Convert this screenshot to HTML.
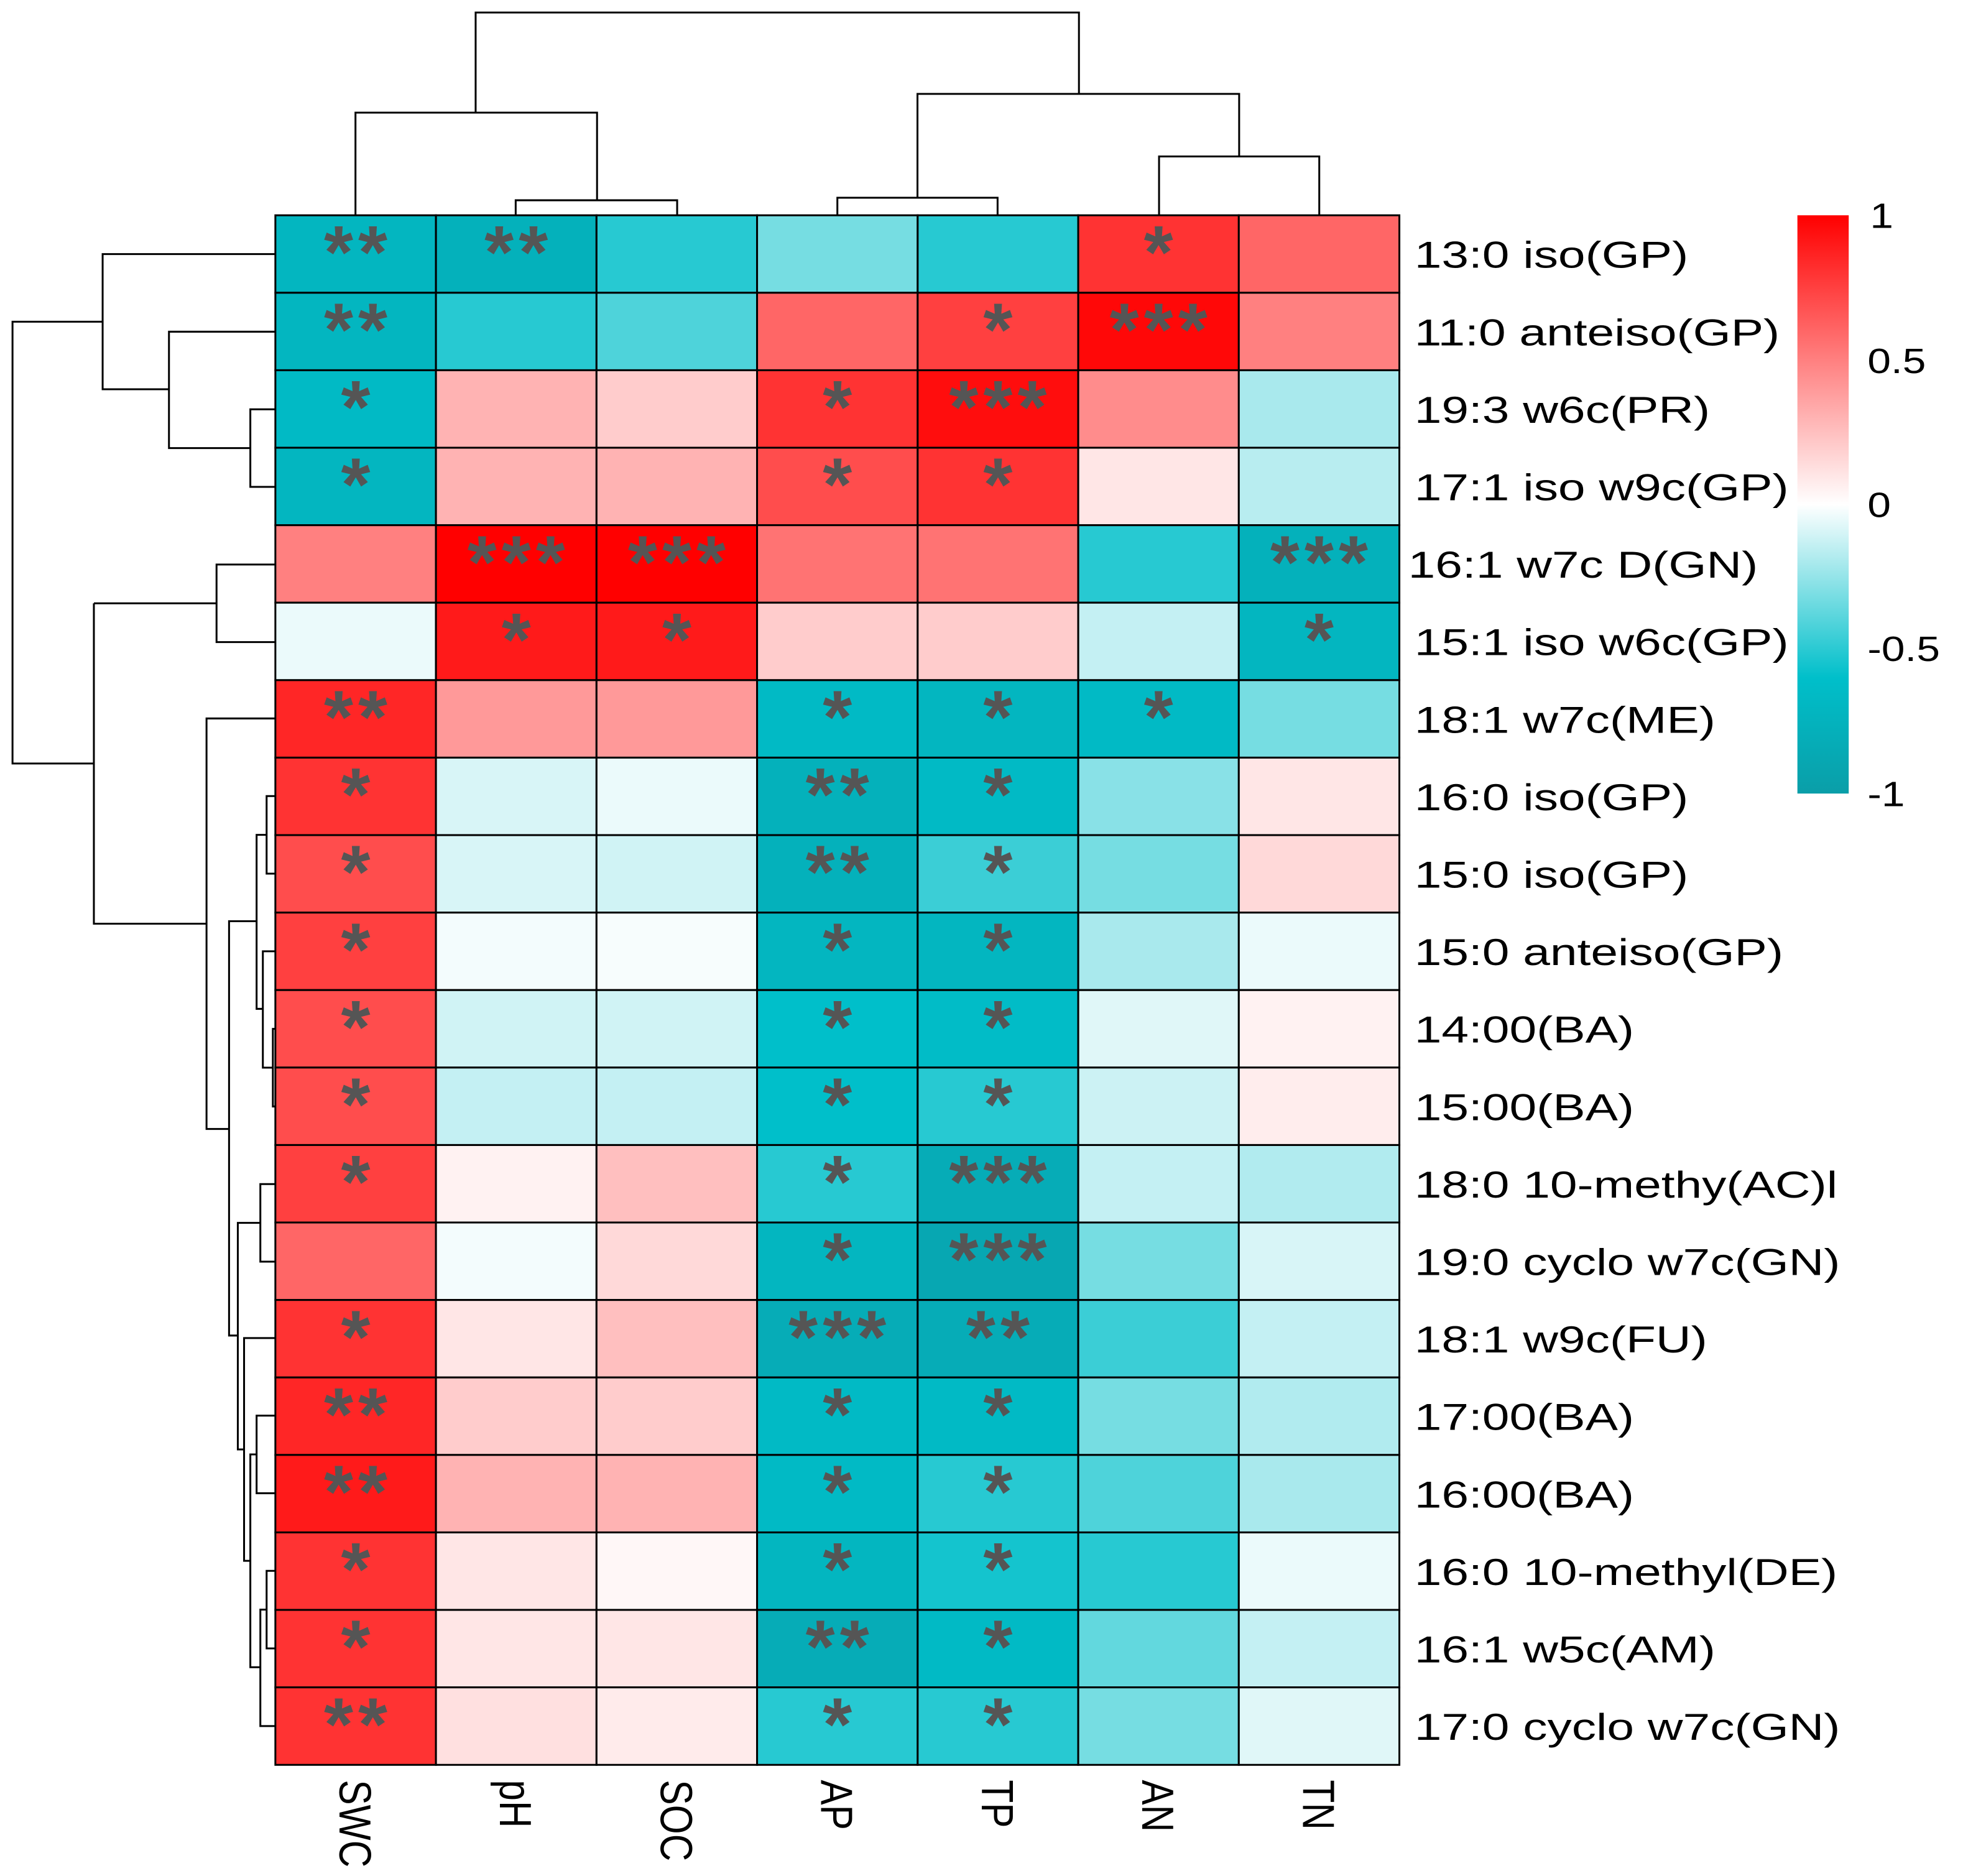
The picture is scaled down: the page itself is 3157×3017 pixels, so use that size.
<!DOCTYPE html>
<html><head><meta charset="utf-8">
<style>html,body{margin:0;padding:0;background:#fff}svg{display:block}</style>
</head><body>
<svg id="chart" xmlns="http://www.w3.org/2000/svg" width="3157" height="3017" viewBox="0 0 1568.3 1498.8" preserveAspectRatio="none" font-family="Liberation Sans, sans-serif">
<defs>
<linearGradient id="cbg" x1="0" y1="1" x2="0" y2="0">
<stop offset="0" stop-color="#0a9ea8"/>
<stop offset="0.2" stop-color="#00bfca"/>
<stop offset="0.5" stop-color="#ffffff"/>
<stop offset="1" stop-color="#ff0000"/>
</linearGradient>
</defs>
<g id="cells"></g>
<g id="stars"></g>
<g id="rowlabels"></g>
<g id="collabels"></g>
<g fill="none" stroke="#000" stroke-width="1.5">
<path d="M412,172V160H541V172M284,172V90H477V160M669,172V158H797V172M926,172V125H1054V172M733,158V75H990V125M380,90V10H862V75"/>
</g>
<g fill="none" stroke="#000" stroke-width="1.5">
<path d="M220,327H200V389H220M220,265H135V358H200M220,203H82V311H135M220,451H173V513H220M82,257H10V610H75M75,482H173M75,482V738H165M220,574H165V902H183M220,636H213V698H220M220,822H218V884H220M220,760H210V853H218M213,667H205V806H210M220,946H208V1008H220M220,1131H205V1193H220M220,1255H213V1317H220M220,1379H208V1286H213M205,1162H200V1332H208M220,1069H195V1247H200M208,977H190V1158H195M205,736H183V1067H190"/>
</g>
<g>
<rect x="1436" y="172" width="41" height="462" fill="url(#cbg)"/>
<g font-size="28" fill="#000">
<text transform="translate(1494,182) scale(1.2,1)">1</text>
<text transform="translate(1492,298) scale(1.2,1)">0.5</text>
<text transform="translate(1492,413) scale(1.2,1)">0</text>
<text transform="translate(1492,528) scale(1.2,1)">-0.5</text>
<text transform="translate(1492,644) scale(1.2,1)">-1</text>
</g>
</g>
</svg>
<script>
const cols = ["SWC","pH","SOC","AP","TP","AN","TN"];
const rows = ["13:0 iso(GP)","11:0 anteiso(GP)","19:3 w6c(PR)","17:1 iso w9c(GP)","16:1 w7c D(GN)","15:1 iso w6c(GP)","18:1 w7c(ME)","16:0 iso(GP)","15:0 iso(GP)","15:0 anteiso(GP)","14:00(BA)","15:00(BA)","18:0 10-methy(AC)l","19:0 cyclo w7c(GN)","18:1 w9c(FU)","17:00(BA)","16:00(BA)","16:0 10-methyl(DE)","16:1 w5c(AM)","17:0 cyclo w7c(GN)"];
const values = [
[-0.75,-0.8,-0.55,-0.35,-0.55,0.8,0.6],
[-0.75,-0.55,-0.45,0.6,0.75,0.97,0.5],
[-0.7,0.3,0.2,0.8,0.95,0.45,-0.22],
[-0.75,0.3,0.3,0.7,0.8,0.1,-0.18],
[0.5,1.0,1.0,0.55,0.55,-0.55,-0.8],
[-0.05,0.9,0.9,0.2,0.2,-0.15,-0.75],
[0.85,0.4,0.4,-0.7,-0.75,-0.7,-0.35],
[0.8,-0.1,-0.05,-0.8,-0.7,-0.3,0.1],
[0.7,-0.1,-0.12,-0.8,-0.5,-0.35,0.15],
[0.75,-0.03,-0.02,-0.75,-0.75,-0.22,-0.05],
[0.7,-0.12,-0.12,-0.65,-0.68,-0.08,0.05],
[0.7,-0.15,-0.15,-0.65,-0.55,-0.13,0.07],
[0.75,0.05,0.25,-0.55,-0.85,-0.15,-0.2],
[0.6,-0.03,0.15,-0.75,-0.9,-0.35,-0.1],
[0.8,0.1,0.25,-0.85,-0.85,-0.5,-0.15],
[0.85,0.2,0.2,-0.7,-0.7,-0.35,-0.2],
[0.9,0.3,0.3,-0.7,-0.55,-0.45,-0.22],
[0.8,0.1,0.03,-0.75,-0.6,-0.55,-0.05],
[0.8,0.1,0.1,-0.85,-0.7,-0.4,-0.15],
[0.8,0.12,0.08,-0.55,-0.55,-0.35,-0.08]
];
const stars = [
["**","**","","","","*",""],
["**","","","","*","***",""],
["*","","","*","***","",""],
["*","","","*","*","",""],
["","***","***","","","","***"],
["","*","*","","","","*"],
["**","","","*","*","*",""],
["*","","","**","*","",""],
["*","","","**","*","",""],
["*","","","*","*","",""],
["*","","","*","*","",""],
["*","","","*","*","",""],
["*","","","*","***","",""],
["","","","*","***","",""],
["*","","","***","**","",""],
["**","","","*","*","",""],
["**","","","*","*","",""],
["*","","","*","*","",""],
["*","","","**","*","",""],
["**","","","*","*","",""]
];
const NS="http://www.w3.org/2000/svg";
const X0=220,X1=1118,Y0=172,Y1=1410;
const cw=(X1-X0)/cols.length, rh=(Y1-Y0)/rows.length;
const xPos=i=>X0+i*cw, yPos=j=>Y0+j*rh;
function lerp(a,b,t){return a.map((v,i)=>Math.round(v+(b[i]-v)*t));}
function color(v){
  v=Math.max(-1,Math.min(1,v));
  let c;
  if(v>=0)c=lerp([255,255,255],[255,0,0],v);
  else if(v>=-0.65)c=lerp([255,255,255],[0,191,202],-v/0.65);
  else c=lerp([0,191,202],[10,158,168],(-v-0.65)/0.35);
  return `rgb(${c})`;
}
const gC=document.getElementById('cells'),gS=document.getElementById('stars'),gR=document.getElementById('rowlabels'),gL=document.getElementById('collabels');
rows.forEach((r,j)=>{
  cols.forEach((c,i)=>{
    const rect=document.createElementNS(NS,'rect');
    
    
    rect.setAttribute('x',xPos(i));rect.setAttribute('y',yPos(j));
    rect.setAttribute('width',cw);rect.setAttribute('height',rh);
    rect.setAttribute('fill',color(values[j][i]));
    rect.setAttribute('stroke','#000');rect.setAttribute('stroke-width','1.5');
    gC.appendChild(rect);
    if(stars[j][i]){
      const t=document.createElementNS(NS,'text');
      
      
      t.setAttribute('x',xPos(i)+cw/2+2);t.setAttribute('y',yPos(j)+50);
      t.setAttribute('text-anchor','middle');t.setAttribute('font-size','60');
      t.setAttribute('font-weight','bold');
      t.setAttribute('fill','#555');t.setAttribute('letter-spacing','4');
      t.textContent=stars[j][i];
      gS.appendChild(t);
    }
  });
  const t=document.createElementNS(NS,'text');
  
  
  const lx=j===4?1125:1130, ly=yPos(j)+rh/2+11;
  t.setAttribute('transform',`translate(${lx},${ly}) scale(1.3,1)`);
  t.setAttribute('font-size','30');
  t.textContent=r;
  gR.appendChild(t);
});
cols.forEach((c,i)=>{
  const t=document.createElementNS(NS,'text');
  
  
  const x=xPos(i)+cw/2-13,y=1422;
  t.setAttribute('x',x);t.setAttribute('y',y);
  t.setAttribute('font-size','30');
  t.setAttribute('transform',`rotate(90 ${x} ${y}) translate(${x},${y}) scale(1,1.2) translate(${-x},${-y})`);
  t.textContent=c;
  gL.appendChild(t);
});
</script>
</body></html>
